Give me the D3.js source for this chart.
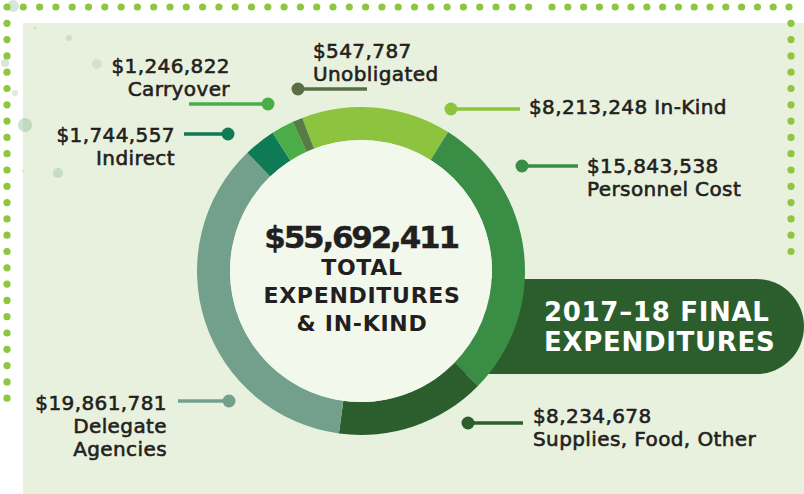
<!DOCTYPE html>
<html>
<head>
<meta charset="utf-8">
<script src="https://cdn.jsdelivr.net/npm/d3@7"></script>
<style>
  html, body { margin: 0; padding: 0; background: #fff; }
  svg { display: block; }
  text { font-family: "DejaVu Sans", sans-serif; fill: #231f20; }
</style>
</head>
<body>
<div id="chart"></div>
<script>
// Data
const categories = ["In-Kind", "Personnel Cost", "Supplies, Food, Other", "Delegate Agencies", "Indirect", "Carryover", "Unobligated"];
const values = [8213248, 15843538, 8234678, 19861781, 1744557, 1246822, 547787];
const amounts = ["$8,213,248", "$15,843,538", "$8,234,678", "$19,861,781", "$1,744,557", "$1,246,822", "$547,787"];
const sliceColors = ["#8cc33f", "#3a8d45", "#2c5e2d", "#73a08c", "#0e7a56", "#4bad47", "#587a45"];
const totalLabel = "$55,692,411";
const centerLines = ["TOTAL", "EXPENDITURES", "& IN-KIND"];
const bannerLines = ["2017\u201318 FINAL", "EXPENDITURES"];

const width = 804;
const height = 494;
const cx = 361, cy = 271;
const outerR = 164, innerR = 131;

const svg = d3.select("#chart")
  .append("svg")
  .attr("width", width)
  .attr("height", height);

// Background panel
svg.append("rect")
  .attr("x", 23).attr("y", 23)
  .attr("width", width - 23).attr("height", height - 23)
  .attr("fill", "#e8f1dd");

// Faint bokeh dots
const bokeh = [[25, 125, 7, 0.35], [58, 173, 5, 0.3], [97, 64, 5, 0.2], [69, 38, 3, 0.25], [15, 93, 3, 0.25], [13, 6, 6, 0.3], [5, 63, 4, 0.3], [35, 28, 1.5, 0.2], [23, 171, 1.5, 0.2]];
svg.selectAll(".bokeh")
  .data(bokeh)
  .enter()
  .append("circle")
  .attr("cx", d => d[0]).attr("cy", d => d[1]).attr("r", d => d[2])
  .attr("fill", "#76b07f")
  .attr("opacity", d => d[3]);

// Dotted border
const dotColor = "#8dc63f";
const step = 16.3;
const topDots = d3.range(7, 530, step).concat(d3.range(552, 796, 15.8));
const leftDots = d3.range(7 + step, 400, step);
const rightDots = d3.range(7 + step, 262, step);
const dots = svg.append("g");
topDots.forEach(x => dots.append("circle").attr("cx", x).attr("cy", 7).attr("r", 3.6).attr("fill", dotColor));
leftDots.forEach(y => dots.append("circle").attr("cx", 7).attr("cy", y).attr("r", 3.6).attr("fill", dotColor));
rightDots.forEach(y => dots.append("circle").attr("cx", 791).attr("cy", y).attr("r", 3.6).attr("fill", dotColor));

// Banner behind the ring
svg.append("rect")
  .attr("x", 300).attr("y", 279)
  .attr("width", 504).attr("height", 95)
  .attr("rx", 47.5)
  .attr("fill", "#2c5e2d");

svg.selectAll(".banner-text")
  .data(bannerLines)
  .enter()
  .append("text")
  .attr("x", 544)
  .attr("y", (d, i) => 321 + i * 30)
  .style("fill", "#fff")
  .style("font-weight", "bold")
  .style("font-size", "26px")
  .style("letter-spacing", "0.7px")
  .text(d => d);

// Donut
const pie = d3.pie()
  .sort(null)
  .startAngle(-21 * Math.PI / 180)
  .endAngle(-21 * Math.PI / 180 + 2 * Math.PI);

const arc = d3.arc().innerRadius(innerR).outerRadius(outerR);

const g = svg.append("g").attr("transform", `translate(${cx},${cy})`);
g.selectAll(".slice")
  .data(pie(values))
  .enter()
  .append("path")
  .attr("class", "slice")
  .attr("d", arc)
  .attr("fill", (d, i) => sliceColors[i]);

g.append("circle").attr("r", innerR).attr("fill", "#f2f8ec");

// Center text
g.append("text")
  .attr("text-anchor", "middle")
  .attr("y", -23)
  .style("font-weight", "bold")
  .style("font-size", "31px")
  .style("letter-spacing", "-2.2px")
  .style("stroke", "#231f20")
  .style("stroke-width", 0.4)
  .text(totalLabel);

g.selectAll(".center-line")
  .data(centerLines)
  .enter()
  .append("text")
  .attr("text-anchor", "middle")
  .attr("x", 1)
  .attr("y", (d, i) => 4 + i * 28)
  .style("font-weight", "bold")
  .style("font-size", "22px")
  .style("letter-spacing", "0.7px")
  .text(d => d);

// Callouts: dot position, line end, text position, anchor, text lines
const callouts = [
  { dot: [451, 109], end: 520, tx: 529, ty: 114, anchor: "start", lines: [amounts[0] + " " + categories[0]] },
  { dot: [522, 166], end: 578, tx: 587, ty: 173, anchor: "start", lines: [amounts[1], categories[1]] },
  { dot: [468, 423], end: 523, tx: 533, ty: 423, anchor: "start", lines: [amounts[2], categories[2]] },
  { dot: [229, 401], end: 178, tx: 167, ty: 410, anchor: "end", lines: [amounts[3], "Delegate", "Agencies"] },
  { dot: [228, 134], end: 184, tx: 175, ty: 142, anchor: "end", lines: [amounts[4], categories[4]] },
  { dot: [268, 104], end: 189, tx: 230, ty: 73, anchor: "end", lines: [amounts[5], categories[5]] },
  { dot: [298, 89], end: 367, tx: 313, ty: 58, anchor: "start", lines: [amounts[6], categories[6]] }
];
const lineColors = sliceColors.slice();
lineColors[6] = "#5a6e45";

const co = svg.selectAll(".callout")
  .data(callouts)
  .enter()
  .append("g")
  .attr("class", "callout");

co.append("line")
  .attr("x1", d => d.dot[0]).attr("y1", d => d.dot[1])
  .attr("x2", d => d.end).attr("y2", d => d.dot[1])
  .attr("stroke", (d, i) => lineColors[i])
  .attr("stroke-width", 3.5);

co.append("circle")
  .attr("cx", d => d.dot[0]).attr("cy", d => d.dot[1])
  .attr("r", 6.5)
  .attr("fill", (d, i) => lineColors[i]);

co.each(function(d) {
  const t = d3.select(this).append("text")
    .attr("text-anchor", d.anchor)
    .style("font-size", "20px")
    .style("letter-spacing", "0.4px")
    .style("stroke", "#231f20")
    .style("stroke-width", 0.6);
  d.lines.forEach((l, j) => {
    t.append("tspan")
      .attr("x", d.tx)
      .attr("y", d.ty + j * 23)
      .text(l);
  });
});
</script>
</body>
</html>
